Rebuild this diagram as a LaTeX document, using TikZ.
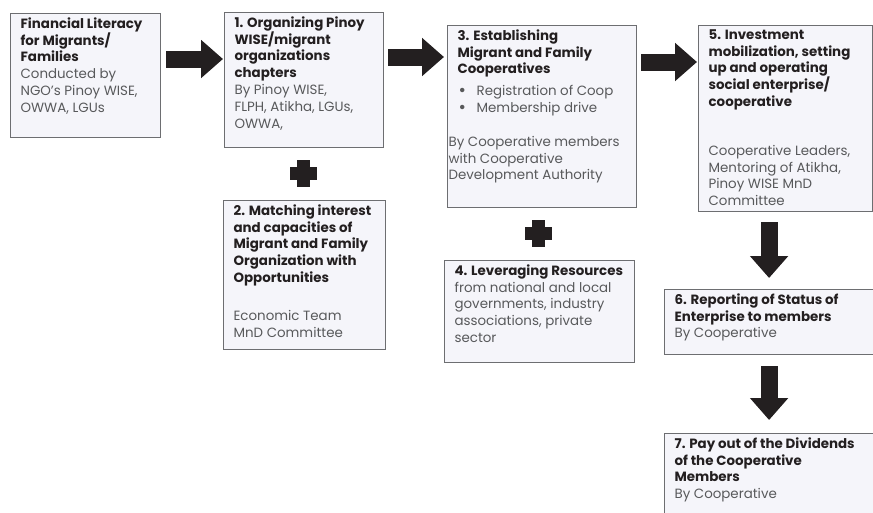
\documentclass[tikz,border=0pt]{standalone}
\usepackage{fontspec}
\setmainfont{Poppins}
\usetikzlibrary{positioning,arrows.meta}

\definecolor{boxfill}{HTML}{F5F5FA}
\definecolor{boxline}{HTML}{6D6E71}
\definecolor{headtext}{HTML}{231F20}
\definecolor{bodytext}{HTML}{58595B}
\definecolor{arrowfill}{HTML}{231F20}

\newcommand{\stagetext}[5]{\parbox[t][#2][t]{#1}{\fontsize{13.4}{16.8}\selectfont\bfseries #3\par\vspace{#4}\leavevmode\color{bodytext}\mdseries #5}}

\newcommand{\stagebullet}{\hspace*{1pt}\makebox[18pt][l]{\raisebox{-0.8pt}{\fontsize{18}{16}\selectfont\textbullet}}}

\begin{document}
\begin{tikzpicture}[x=1pt,y=-1pt,
			stage/.style={
				draw=boxline,
				fill=boxfill,
				line width=1.2pt,
				anchor=north west,
				inner xsep=10pt,
				inner ysep=4pt,
				text=headtext
			},
			blockarrow/.style={
				draw=arrowfill,
				line width=17pt,
				-{Triangle[width=37pt,length=22pt]}
			},
			plussign/.pic={
				\fill[arrowfill] (-6.5,-13.5) rectangle (6.5,13.5);
				\fill[arrowfill] (-13.5,-6.5) rectangle (13.5,6.5);
			}]
			
			\useasboundingbox (0,0) rectangle (873,512);
			
			\node(fin)[stage] at (10,13){\stagetext{130pt}{116pt}{Financial Literacy\\for Migrants/\\Families}{0pt}{Conducted by\\NGO’s Pinoy WISE,\\OWWA, LGUs}};
			
			\node(org)[stage] at (224,12){\stagetext{139pt}{127pt}{1. Organizing Pinoy\\WISE/migrant\\organizations\\chapters}{0pt}{By Pinoy WISE,\\FLPH, Atikha, LGUs,\\OWWA,}};
			
			\node(match)[stage] at (223,200){\stagetext{142pt}{141pt}{2. Matching interest\\and capacities of\\Migrant and Family\\Organization with\\Opportunities}{21pt}{Economic Team\\MnD Committee}};
			
			\node(coop)[stage] at (447,25){\stagetext{169pt}{174pt}{3. Establishing\\Migrant and Family\\Cooperatives}{5pt}{\stagebullet Registration of Coop\\\stagebullet Membership drive\par\vspace{17pt}\hspace*{-9pt}By Cooperative members\\\hspace*{-9pt}with Cooperative\\\hspace*{-9pt}Development Authority}};
			
			\node(lever)[stage] at (444,260){\stagetext{170pt}{94pt}{4. Leveraging Resources}{0pt}{from national and local\\governments, industry\\associations, private\\sector}};
			
			\node(invest)[stage] at (698,25){\stagetext{154pt}{178pt}{5. Investment\\mobilization, setting\\up and operating\\social enterprise/\\cooperative}{32pt}{Cooperative Leaders,\\Mentoring of Atikha,\\Pinoy WISE MnD\\Committee}};
			
			\node(report)[stage] at (664,289){\stagetext{195pt}{57pt}{6. Reporting of Status of\\Enterprise to members}{0pt}{By Cooperative}};
			
			\node(payout)[stage] at (664,433){\stagetext{195pt}{82pt}{7. Pay out of the Dividends\\of the Cooperative\\Members}{0pt}{By Cooperative}};
			
			\coordinate[below right=46pt and 5pt of fin.north east](a1);
			
			\coordinate[below right=45pt and 4pt of org.north east](a2);
			
			\coordinate[below right=37pt and 4pt of coop.north east](a3);
			
			\draw[blockarrow,shorten >=1pt](a1)--(a1 -| org.west);
			
			\draw[blockarrow,shorten >=3pt](a2)--(a2 -| coop.west);
			
			\draw[blockarrow,shorten >=1pt](a3)--(a3 -| invest.west);
			
			\draw[blockarrow]([xshift=-3pt,yshift=67pt]report.north)--([xshift=-3pt,yshift=11pt]report.north);
			
			\draw[blockarrow]([xshift=-3pt,yshift=-11pt]report.south)--([xshift=-3pt,yshift=13pt]payout.north);
			
			\pic at (303,173){plussign};
			
			\pic at (538,233){plussign};
			
		\end{tikzpicture}
\end{document}
